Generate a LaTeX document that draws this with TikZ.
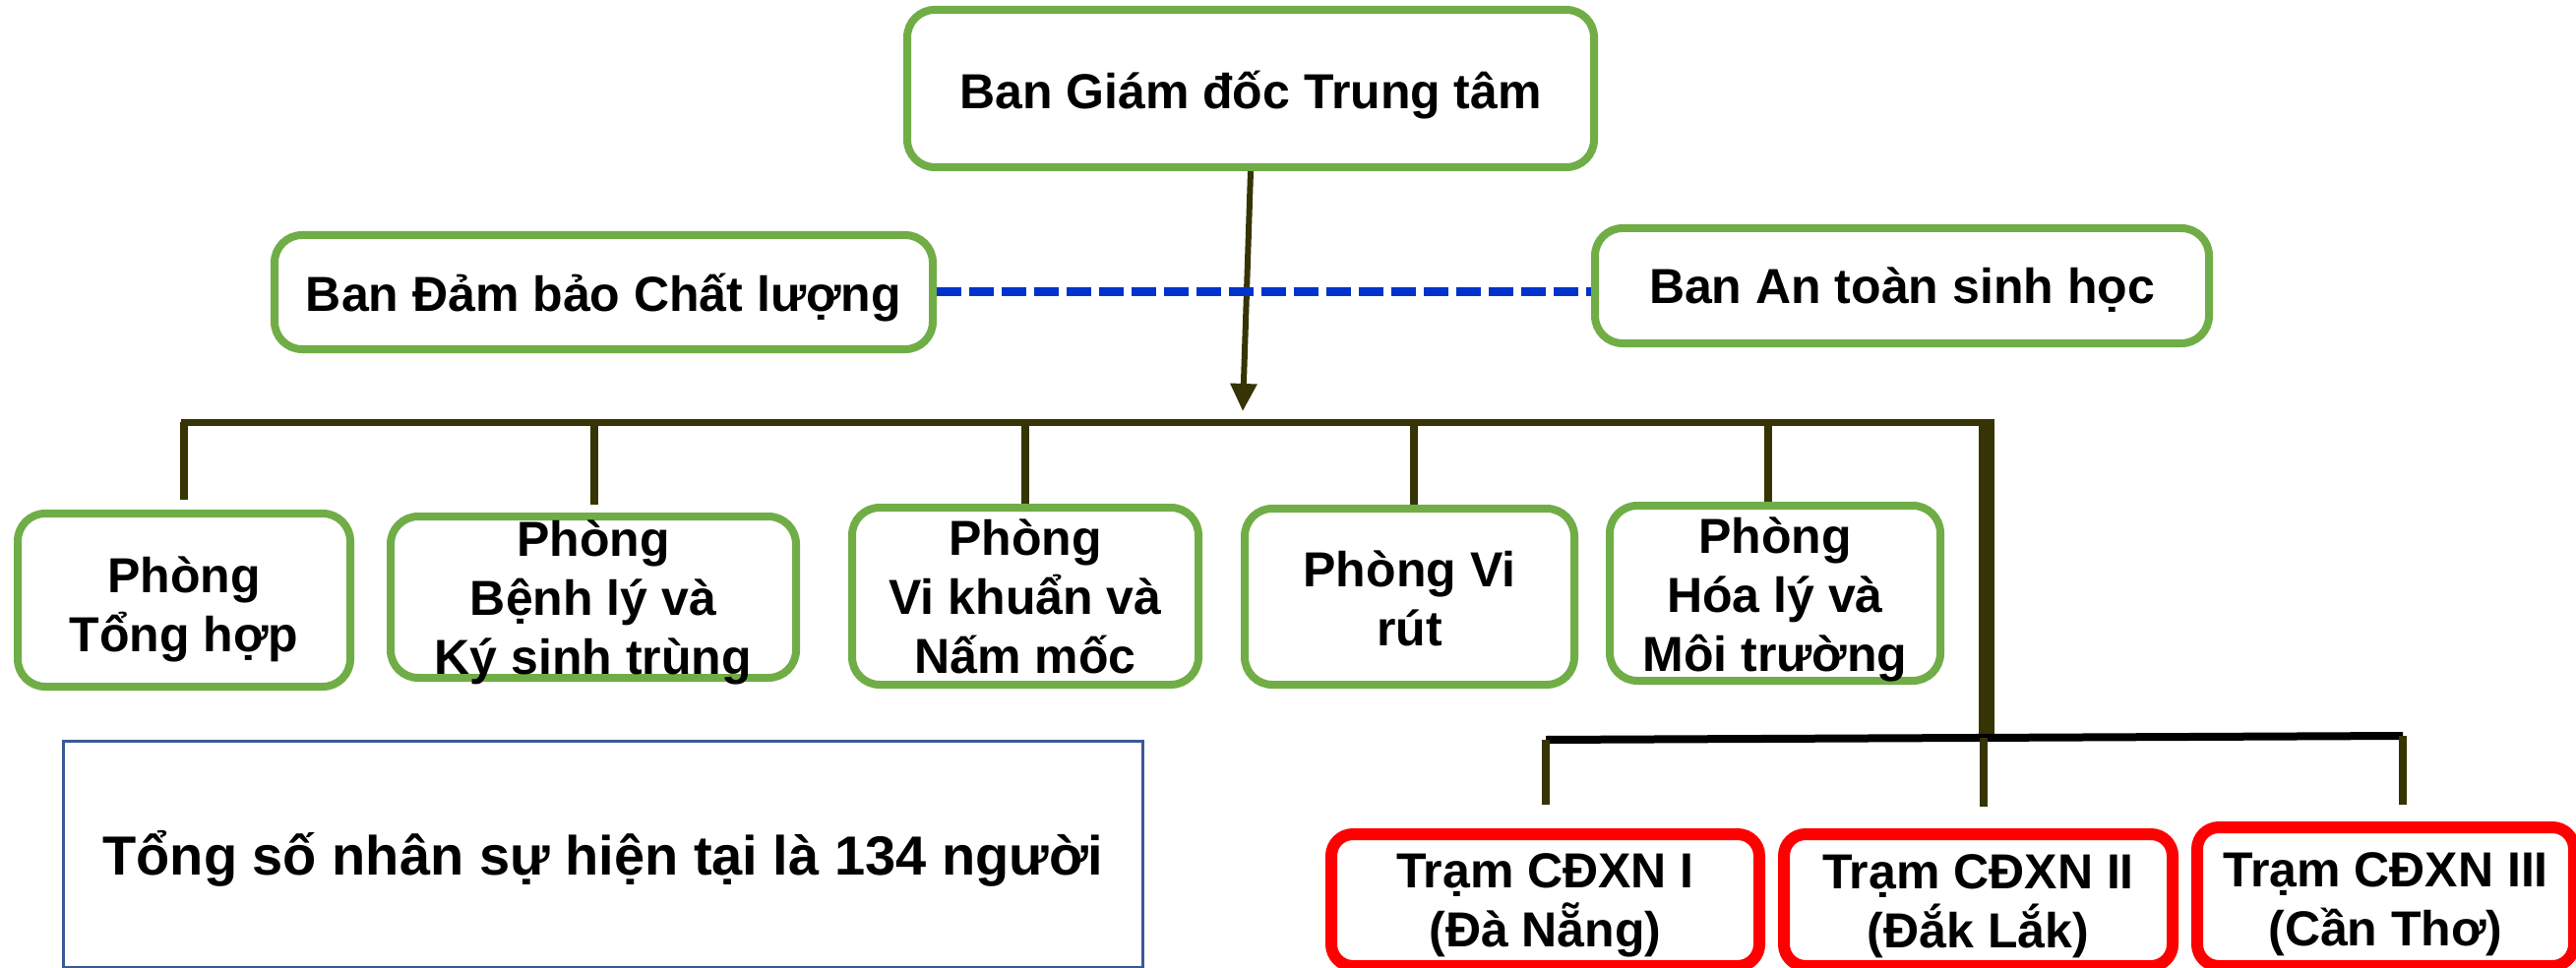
\documentclass[tikz,border=0pt]{standalone}
\usepackage{fontspec}
\setmainfont{Liberation Sans}
\usetikzlibrary{arrows.meta,calc}
\definecolor{ogreen}{RGB}{112,173,71}
\definecolor{busc}{RGB}{54,52,4}
\definecolor{dashblue}{RGB}{0,51,204}
\definecolor{totblue}{RGB}{59,89,152}
\tikzset{
  gbox/.style={draw=ogreen, line width=8pt, rounded corners=28pt, fill=white, inner sep=0pt},
  rbox/.style={draw=red, line width=12pt, rounded corners=22pt, fill=white, inner sep=0pt},
  tbox/.style={draw=totblue, line width=3pt, fill=white, inner sep=0pt},
  lbl/.style={font=\bfseries\fontsize{50}{60}\selectfont, align=center, inner sep=0pt},
  biglbl/.style={font=\bfseries\fontsize{56}{66}\selectfont, align=center, inner sep=0pt},
  busline/.style={draw=busc, line width=7pt},
  dropline/.style={draw=busc, line width=8pt},
  thickline/.style={draw=busc, line width=16pt},
  blackbar/.style={draw=black, line width=8pt},
  mainarrow/.style={draw=busc, line width=6pt, -{Triangle[width=26pt,length=28pt]}},
  linkdash/.style={draw=dashblue, line width=9pt, dash pattern=on 25pt off 8pt},
}
\begin{document}
\begin{tikzpicture}[x=1pt,y=-1pt]
\useasboundingbox (0,0) rectangle (2618,984);
\clip (0,0) rectangle (2618,984);
\fill[white] (0,0) rectangle (2618,984);

% top boxes
\node[gbox, minimum width=698pt, minimum height=160pt] (gd) at (1271,90) {};
\node[lbl, yshift=-7pt] (gdt) at (gd.center) {Ban Giám đốc Trung tâm};
\node[gbox, minimum width=669pt, minimum height=116pt] (qa) at (613.5,297) {};
\node[lbl, yshift=-6pt] (qat) at (qa.center) {Ban Đảm bảo Chất lượng};
\node[gbox, minimum width=624pt, minimum height=117pt] (bio) at (1933,290.5) {};
\node[lbl, yshift=-4pt] (biot) at (bio.center) {Ban An toàn sinh học};

% departments
\node[gbox, minimum width=338pt, minimum height=176pt] (p1) at (187,610) {};
\node[lbl, yshift=-9pt] (p1t) at (p1.center) {Phòng\\Tổng hợp};
\node[gbox, minimum width=412pt, minimum height=164pt] (p2) at (603,607) {};
\node[lbl, yshift=-5.5pt] (p2t) at (p2.center) {Phòng\\Bệnh lý và\\Ký sinh trùng};
\node[gbox, minimum width=352pt, minimum height=180pt] (p3) at (1042,606) {};
\node[lbl] (p3t) at (p3.center) {Phòng\\Vi khuẩn và\\Nấm mốc};
\node[gbox, minimum width=335pt, minimum height=179pt] (p4) at (1432.5,606.5) {};
\node[lbl, yshift=-2pt] (p4t) at (p4.center) {Phòng Vi\\rút};
\node[gbox, minimum width=336pt, minimum height=178pt] (p5) at (1804,603) {};
\node[lbl, yshift=-6pt] (p5t) at (p5.center) {Phòng\\Hóa lý và\\Môi trường};

% stations
\node[rbox, minimum width=435pt, minimum height=134pt] (t1) at (1570.5,915) {};
\node[lbl, yshift=-5.75pt] (t1t) at (t1.center) {Trạm CĐXN I\\(Đà Nẵng)};
\node[rbox, minimum width=395pt, minimum height=134pt] (t2) at (2010.5,915) {};
\node[lbl, yshift=-5.75pt] (t2t) at (t2.center) {Trạm CĐXN II\\(Đắk Lắk)};
\node[rbox, minimum width=383pt, minimum height=141pt] (t3) at (2424.5,911.5) {};
\node[lbl, yshift=-7.75pt] (t3t) at (t3.center) {Trạm CĐXN III\\(Cần Thơ)};

% total
\node[tbox, minimum width=1097pt, minimum height=229.5pt] (tot) at (613,868.25) {};
\node[biglbl, yshift=-5pt] (tott) at (tot.center) {Tổng số nhân sự hiện tại là 134 người};

% connector coordinates
\coordinate (tip) at (1263,418);
\coordinate (busL) at (184,429);
\coordinate (busR) at (2019,429);
\coordinate (b1) at (187,429);
\coordinate (b2) at (604,429);
\coordinate (b3) at (1042,429);
\coordinate (b4) at (1437,429);
\coordinate (b5) at (1797,429);
\coordinate (vTop) at (2019,426);
\coordinate (vBot) at (2019,748);
\coordinate (s1) at (1571,752);
\coordinate (s2) at (2016,750);
\coordinate (s3) at (2442,748);

% main arrow
\draw[mainarrow] (gd.south) -- (tip);

% bus
\draw[busline] (busL) -- (busR);
\draw[dropline] (b1) -- ($(b1 |- p1.north)+(0,-10)$);
\draw[dropline] (b2) -- ($(b2 |- p2.north)+(0,-8)$);
\draw[dropline] (b3) -- (b3 |- p3.north);
\draw[dropline] (b4) -- (b4 |- p4.north);
\draw[dropline] (b5) -- (b5 |- p5.north);
\draw[thickline] (vTop) -- (vBot);

% station bar
\draw[blackbar] (s1) -- (s3);
\draw[dropline] (s1) -- ($(s1 |- t1.north)+(0,-24)$);
\draw[dropline] (s2) -- ($(s2 |- t2.north)+(0,-22)$);
\draw[dropline] (s3) -- ($(s3 |- t3.north)+(0,-17)$);

% dashed link
\draw[linkdash] (qa.east) -- (qa.east -| bio.west);
\end{tikzpicture}
\end{document}
